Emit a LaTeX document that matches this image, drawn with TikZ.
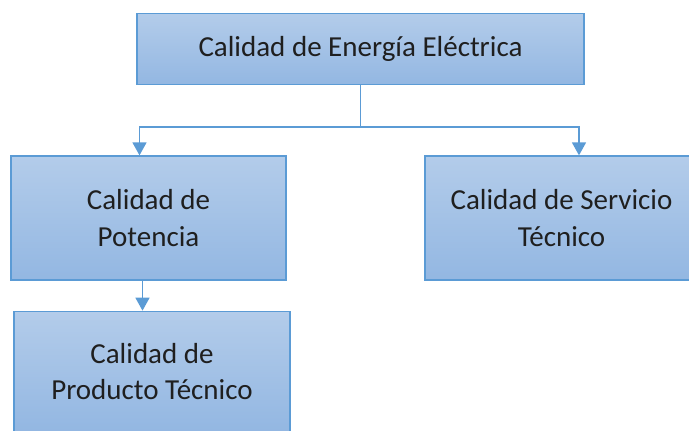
\documentclass[tikz,border=0pt]{standalone}
\usepackage{fontspec}
\setmainfont{Carlito}
\usetikzlibrary{arrows.meta, positioning, calc}
\definecolor{boxtop}{HTML}{B3CCEA}
\definecolor{boxbot}{HTML}{93B7E2}
\definecolor{boxline}{HTML}{5B9BD5}
\definecolor{txtcol}{HTML}{1F1F1F}
\tikzset{
  qbox/.style  = {font=\fontsize{29}{36.5}\selectfont, align=center, text=txtcol,
                  draw=boxline, top color=boxtop, bottom color=boxbot,
                  line width=1.3pt, inner sep=0pt},
  link/.style  = {draw=boxline, line width=1.6pt},
  flow/.style  = {link, -{Triangle[length=13pt, width=14pt]}},
}
\begin{document}
\begin{tikzpicture}[x=1pt, y=-1pt]
    \useasboundingbox (0,0) rectangle (689,431);
        \node[qbox, minimum width=447pt, minimum height=71pt] (energia) at (360.5,49) {Calidad de Energía Eléctrica};
        \node[qbox, minimum width=275pt, minimum height=124pt] (potencia) at (148.5,218) {Calidad de\\Potencia};
        \node[qbox, minimum width=273pt, minimum height=124pt] (servicio) at (561.5,218) {Calidad de Servicio\\Técnico};
        \node[qbox, minimum width=276pt, minimum height=120pt, below=30pt of potencia, xshift=3.5pt] (producto) {Calidad de\\Producto Técnico};
        \coordinate (split) at (energia.south |- 0,127);
        \draw[link] (energia.south) -- (split);
        \draw[flow] (split) -| ([xshift=-9pt]potencia.north);
        \draw[flow] (split) -| ([xshift=17.5pt]servicio.north);
        \draw[flow] ([xshift=-6pt]potencia.south) -- ([xshift=-9.5pt]producto.north);
    \end{tikzpicture}
\end{document}
